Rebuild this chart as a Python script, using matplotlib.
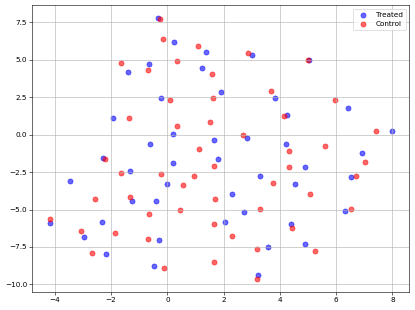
import numpy as np
import matplotlib
matplotlib.use("Agg")
import matplotlib.pyplot as plt

# Treated group
treated_x = [-0.32, -1.39, -0.64, 0.25, 1.36, 1.24, -0.21, -1.94, 0.20, -0.61,
             3.00, 1.92, 3.81, 4.26, 6.43, 7.99, 1.65, 2.83, 4.23, 6.92, 5.03,
             -2.27, 0.20, -1.34, -3.46, -0.02, -1.26, -0.39, -4.18, -2.31, -2.97,
             -0.31, -2.18, -0.46,
             1.81, 4.89, 3.30, 6.54, 4.54, 2.30, 2.71, 6.31, 2.04, 4.38, 3.58,
             4.89, 3.23]
treated_y = [7.80, 4.21, 4.70, 6.18, 5.55, 4.46, 2.43, 1.10, 0.02, -0.62,
             5.33, 2.83, 2.45, 1.34, 1.81, 0.25, -0.38, -0.22, -0.64, -1.22, 4.99,
             -1.54, -1.87, -2.45, -3.10, -3.32, -4.43, -4.43, -5.92, -5.84, -6.82,
             -7.06, -7.97, -8.80,
             -1.62, -2.14, -2.74, -2.83, -3.32, -3.99, -5.19, -5.10, -5.84, -5.95,
             -7.53, -7.33, -9.36]

# Control group
control_x = [-0.25, -0.16, 1.08, 0.33, -1.64, -0.67, 0.08, -1.37, 0.36, 1.13, 1.53,
             2.88, 1.60, 3.67, 1.63, 5.95, 4.13, 2.70, 7.42, 5.61, 4.33, 5.00,
             -2.20, -1.66, -0.23, 0.96, 0.57, -2.58, -1.31, -0.65, 0.46, -4.16,
             -3.07, -1.87, -0.67, -2.67, -0.11,
             1.66, 4.31, 7.02, 6.70, 3.74, 5.07, 1.71, 3.30, 6.54, 1.65, 4.44,
             2.31, 3.20, 5.24, 1.65, 3.20]
control_y = [7.73, 6.40, 5.95, 4.93, 4.81, 4.30, 2.32, 1.10, 0.56, -0.96, 0.87,
             5.44, 4.04, 2.90, 2.47, 2.34, 1.27, 0.00, 0.25, -0.73, -1.07, 4.98,
             -1.62, -2.58, -2.63, -2.74, -3.34, -4.28, -4.14, -5.28, -5.01, -5.66,
             -6.42, -6.57, -6.97, -7.91, -8.93,
             -2.09, -2.18, -1.82, -2.78, -3.23, -3.99, -4.32, -4.99, -4.95, -5.99,
             -6.24, -6.75, -7.66, -7.80, -8.49, -9.67]

dpi = 51.875
fig = plt.figure(figsize=(415 / dpi, 310 / dpi), dpi=dpi)
ax = fig.add_axes([0.0778, 0.0571, 0.9085, 0.9268])

ax.scatter(treated_x, treated_y, c="blue", alpha=0.6, s=50, label="Treated")
ax.scatter(control_x, control_y, c="red", alpha=0.6, s=50, label="Control")

ax.set_xlim(-4.80, 8.60)
ax.set_ylim(-10.53, 8.67)
ax.set_yticks([-10, -7.5, -5, -2.5, 0, 2.5, 5, 7.5])
ax.grid(True)
ax.legend(loc="upper right")

fig.savefig("out.png", dpi=dpi)
